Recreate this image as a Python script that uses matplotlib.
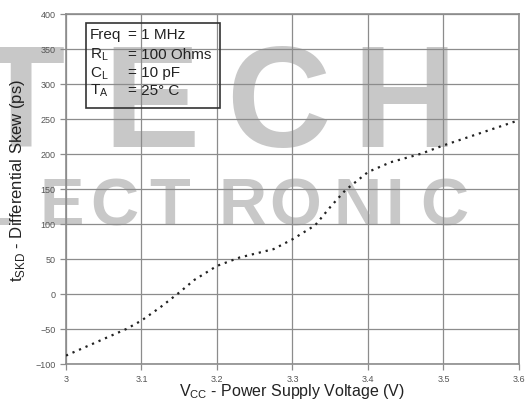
import numpy as np
import matplotlib.pyplot as plt

plt.rcParams['font.family'] = ['Liberation Sans', 'DejaVu Sans']
plt.rcParams['mathtext.fontset'] = 'custom'
plt.rcParams['mathtext.rm'] = 'Liberation Sans'

vcc = [3.0, 3.04, 3.08, 3.10, 3.125, 3.15, 3.17, 3.20, 3.23, 3.275,
       3.30, 3.33, 3.35, 3.37, 3.40, 3.43, 3.47, 3.50, 3.55, 3.60]
skew = [-88, -69, -50, -38, -19, 2, 20, 40, 52, 64,
        78, 98, 124, 148, 174, 188, 200, 212, 230, 248]

xticks = [3, 3.1, 3.2, 3.3, 3.4, 3.5, 3.6]
xticklabels = ['3', '3.1', '3.2', '3.3', '3.4', '3.5', '3.6']
yticks = list(range(-100, 401, 50))

cond_names = ['Freq', r'R$_{\mathregular{L}}$', r'C$_{\mathregular{L}}$', r'T$_{\mathregular{A}}$']
cond_values = ['= 1 MHz', '= 100 Ohms', '= 10 pF', '= 25° C']

W, H = 527, 406
fig = plt.figure(figsize=(W / 100, H / 100), dpi=100)
ax = fig.add_axes([0.1252, 0.101, 0.8596, 0.8628])
ax.set_facecolor('none')

# watermark letters behind the chart (pixel centres from the reference)
wm = '#c8c8c8'
for ch, cx in zip('TECH', [20, 152, 278, 405]):
    fig.text(cx / W, 1 - 147 / H, ch, fontsize=104, fontweight='bold', color=wm,
             ha='center', va='baseline', zorder=-5)
for ch, cx in zip('ELECTRONIC', [-50, -8, 62, 114, 170, 243, 295, 358, 395, 444]):
    fig.text(cx / W, 1 - 225 / H, ch, fontsize=48, fontweight='bold', color=wm,
             family=['Liberation Sans Narrow', 'Liberation Sans'],
             ha='center', va='baseline', zorder=-5)

ax.plot(vcc, skew, color='#222222', lw=1.6, linestyle=(0, (1, 2.2)), zorder=3)

ax.set_xlim(3, 3.6)
ax.set_ylim(-100, 400)
ax.set_xticks(xticks)
ax.set_xticklabels(xticklabels)
ax.set_yticks(yticks)
ax.grid(True, color='#8c8c8c', lw=0.9)
for s in ax.spines.values():
    s.set_color('#8c8c8c')
    s.set_linewidth(1.2)
ax.tick_params(colors='#8c8c8c', labelcolor='#555555', labelsize=6.5, length=4, width=0.9)

ax.set_xlabel(r'V$_{\mathregular{CC}}$ - Power Supply Voltage (V)', fontsize=11.5, color='#222222')
ax.set_ylabel(r't$_{\mathregular{SKD}}$ - Differential Skew (ps)', fontsize=12, color='#222222')
ax.xaxis.set_label_coords(0.499, -0.048)
ax.yaxis.set_label_coords(-0.085, 0.528)

# conditions box
box = plt.Rectangle((0.044, 0.730), 0.296, 0.243, transform=ax.transAxes,
                    facecolor='none', edgecolor='#333333', lw=1.2, zorder=4)
ax.add_patch(box)
ys = [0.941, 0.886, 0.833, 0.782]
for name, val, yy in zip(cond_names, cond_values, ys):
    ax.text(0.052, yy, name, transform=ax.transAxes, fontsize=11, color='#222222',
            va='center', ha='left', zorder=5)
    ax.text(0.137, yy, val, transform=ax.transAxes, fontsize=11, color='#222222',
            va='center', ha='left', zorder=5)

fig.savefig('out.png', dpi=100)
